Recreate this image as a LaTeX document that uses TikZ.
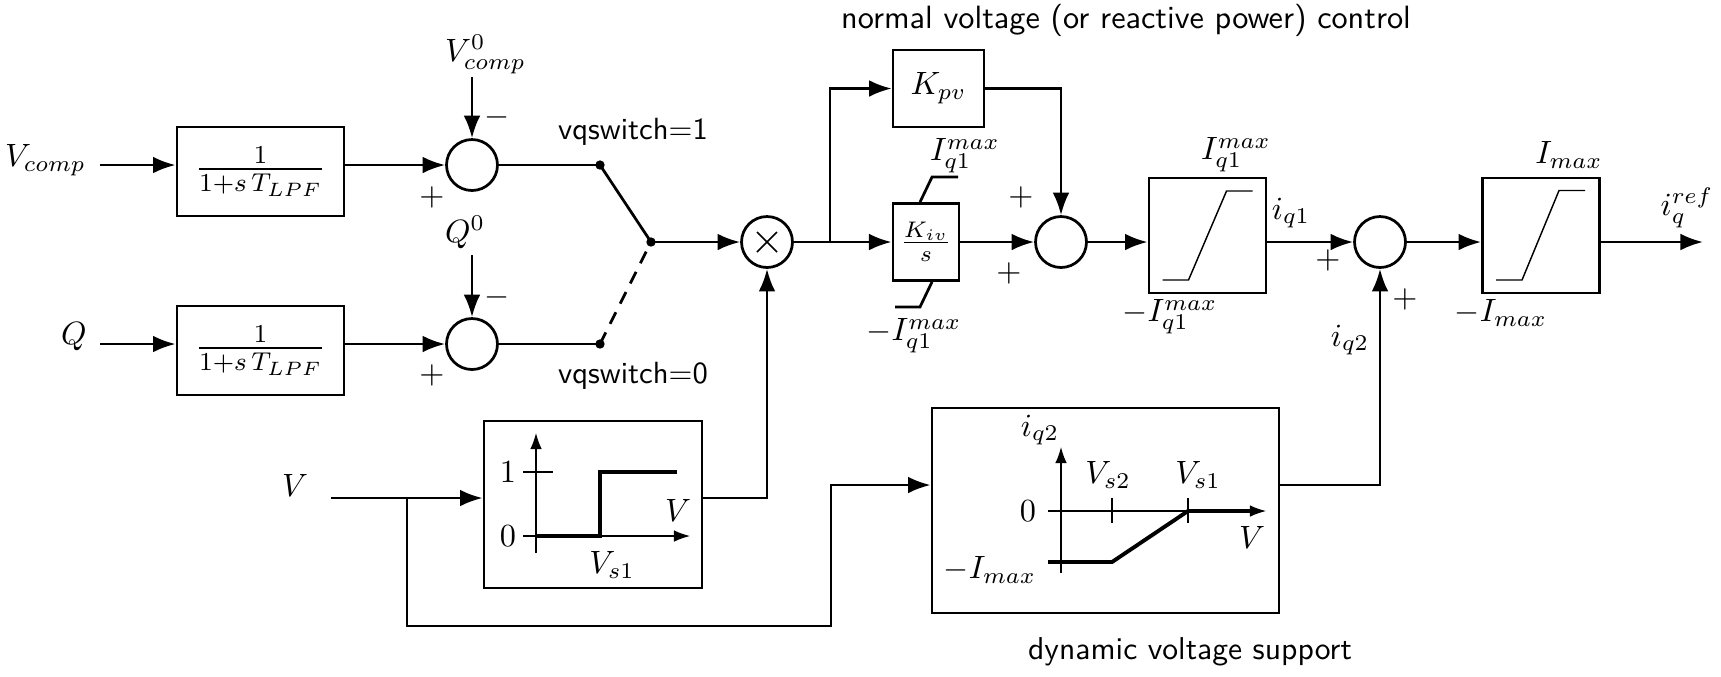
\documentclass[tikz,border=0pt]{standalone}
\usetikzlibrary{arrows.meta,calc}
\begin{document}
\begin{tikzpicture}[x=0.31pt,y=-0.31pt,line width=0.85pt,
  arr/.style={-{Latex[length=7pt,width=5.2pt]}},
  sarr/.style={-{Latex[length=5pt,width=3.6pt]}},
  blk/.style={draw,line width=0.85pt,inner sep=0pt,anchor=center},
  sumc/.style={draw,circle,minimum size=15.8pt,inner sep=0pt,line width=0.85pt},
  lbl/.style={inner sep=0pt},
  txt/.style={inner sep=0pt,font=\fontsize{9.5}{11}\selectfont\sffamily},
  dotn/.style={circle,fill,inner sep=0pt,minimum size=2.9pt},
  axis/.style={line width=0.4pt},
  curve/.style={line width=0.45pt},
  thk/.style={line width=1.2pt},
  lpf/.style={blk,minimum width=51.8pt,minimum height=27.6pt,font=\fontsize{12}{14}\selectfont}]
\useasboundingbox (0,0) rectangle (1721,676);

% ---------- left inputs ----------
\node[lbl] (vcl) at (45.5,160) {$V_{comp}$};
\coordinate (vcin) at (100,165);
\node[lpf] (b1) at (260.5,171.5) {$\frac{1}{1+s\,T_{LPF}}$};
\node[sumc] (s1) at (472,165) {};
\draw[arr] (vcin) -- (vcin -| b1.west);
\draw[arr] (vcin -| b1.east) -- (s1.west);
\node[lbl] (v0) at (485.5,54.5) {$V^0_{comp}$};
\coordinate (v0a) at (472,77);
\draw[arr] (v0a) -- (s1.north);
\node[lbl] (s1m) at (497,117) {$-$};
\node[lbl] (s1p) at (432,197) {$+$};

\node[lbl] (ql) at (74,336.5) {$Q$};
\coordinate (qin) at (100,344);
\node[lpf] (b2) at (260.5,350.5) {$\frac{1}{1+s\,T_{LPF}}$};
\node[sumc] (s2) at (472,344) {};
\draw[arr] (qin) -- (qin -| b2.west);
\draw[arr] (qin -| b2.east) -- (s2.west);
\node[lbl] (q0) at (465,232.5) {$Q^0$};
\coordinate (q0a) at (472,255);
\draw[arr] (q0a) -- (s2.north);
\node[lbl] (s2m) at (497,297) {$-$};
\node[lbl] (s2p) at (432,375) {$+$};

% ---------- switch ----------
\node[dotn] (d1) at (600,165) {};
\node[dotn] (dp) at (651,242) {};
\node[dotn] (d2) at (600,344) {};
\draw (s1.east) -- (d1.center);
\draw (s2.east) -- (d2.center);
\draw (d1.center) -- (dp.center);
\draw[dash pattern=on 4pt off 3pt] (d2.center) -- (dp.center);
\node[txt] (sw1) at (633,132) {vqswitch=1};
\node[txt] (sw0) at (633,376) {vqswitch=0};

% ---------- multiplier ----------
\node[sumc] (m) at (767,242) {};
\draw[line width=0.5pt] ([shift={(-10,-10)}]m.center) -- ([shift={(10,10)}]m.center);
\draw[line width=0.5pt] ([shift={(-10,10)}]m.center) -- ([shift={(10,-10)}]m.center);
\draw[arr] (dp.center) -- (m.west);
\coordinate (j1) at (830,242);
\draw (m.east) -- (j1);

% ---------- PI ----------
\node[txt,font=\fontsize{10}{12}\selectfont\sffamily] (ttl) at (1126,20) {normal voltage (or reactive power) control};
\node[blk,minimum width=28.2pt,minimum height=23.9pt] (kpv) at (938.5,88.5) {$K_{pv}$};
\node[blk,minimum width=20.5pt,minimum height=23.9pt] (kiv) at (926,242) {$\frac{K_{iv}}{s}$};
\draw[arr] (j1) |- (kpv.west);
\draw[arr] (j1) -- (kiv.west);
\node[sumc] (s3) at (1061,242) {};
\draw[arr] (kiv.east) -- (s3.west);
\draw[arr] (kpv.east) -| (s3.north);
\draw ([shift={(-6,0)}]kiv.north) -- ++(12,-25) -- ++(26,0);
\draw ([shift={(6,0)}]kiv.south) -- ++(-12,25) -- ++(-25,0);
\node[lbl] (kivmax) at (965,156) {$I_{q1}^{max}$};
\node[lbl] (kivmin) at (914,336) {$-I_{q1}^{max}$};
\node[lbl] (s3p1) at (1021,197) {$+$};
\node[lbl] (s3p2) at (1009,273) {$+$};

% ---------- limiter 1 ----------
\node[blk,minimum width=36.3pt,minimum height=35.65pt] (l1) at (1207.5,235.5) {};
\draw[curve] ([shift={(-45,44.5)}]l1.center) -- ([shift={(-19,44.5)}]l1.center) -- ([shift={(19,-44.5)}]l1.center) -- ([shift={(45,-44.5)}]l1.center);
\draw[arr] (s3.east) -- (s3.east -| l1.west);
\node[lbl] (l1max) at (1236,155) {$I_{q1}^{max}$};
\node[lbl] (l1min) at (1170,317) {$-I_{q1}^{max}$};
\node[lbl] (iq1) at (1291,213) {$i_{q1}$};

% ---------- sum 4 ----------
\node[sumc] (s4) at (1380,242) {};
\draw[arr] (s3.east -| l1.east) -- (s4.west);
\node[lbl] (s4p1) at (1328,260) {$+$};
\node[lbl] (s4p2) at (1405,299) {$+$};
\node[lbl] (iq2) at (1350,340) {$i_{q2}$};

% ---------- limiter 2 ----------
\node[blk,minimum width=36.3pt,minimum height=35.65pt] (l2) at (1541,235.5) {};
\draw[curve] ([shift={(-45,44.5)}]l2.center) -- ([shift={(-19,44.5)}]l2.center) -- ([shift={(18,-45)}]l2.center) -- ([shift={(44,-45)}]l2.center);
\draw[arr] (s4.east) -- (s4.east -| l2.west);
\coordinate (out) at (1703,242);
\draw[arr] (s4.east -| l2.east) -- (out);
\node[lbl] (l2max) at (1569,155) {$I_{max}$};
\node[lbl] (l2min) at (1501,313) {$-I_{max}$};
\node[lbl] (iqref) at (1687,208) {$i_q^{ref}$};

% ---------- V input, step box ----------
\node[lbl] (vl) at (295,485) {$V$};
\coordinate (vin) at (331,498);
\node[blk,minimum width=67.6pt,minimum height=51.8pt] (step) at (593,504.5) {};
\draw[arr] (vin) -- (vin -| step.west);
\coordinate (j2) at (407,498);
\draw[arr] (step.east |- vin) -| (m.south);
% graph
\draw[axis,sarr] (536,553) -- (536,433);
\draw[axis,sarr] (523,536) -- (690,536);
\draw[axis] (523,472) -- (553,472);
\draw[thk] (536,536) -- (600,536) -- (600,472) -- (677,472);
\node[lbl] (st1) at (508,472) {$1$};
\node[lbl] (st0) at (508,536) {$0$};
\node[lbl] (stv) at (678,510) {$V$};
\node[lbl] (stvs) at (612,565) {$V_{s1}$};

% ---------- dynamic voltage support ----------
\node[blk,minimum width=107.6pt,minimum height=63.6pt] (dyn) at (1105.5,510.5) {};
\coordinate (c1) at (831,626);
\coordinate (c2) at (831,485);
\draw[arr] (j2) |- (c1) -- (c2) -- (c2 -| dyn.west);
\draw[arr] (dyn.east |- c2) -| (s4.south);
\draw[axis,sarr] (1061,573) -- (1061,447);
\draw[axis,sarr] (1048,511) -- (1266,511);
\draw[axis] (1112,498) -- (1112,523);
\draw[axis] (1188,498) -- (1188,523);
\draw[thk] (1048,562) -- (1112,562) -- (1188,511) -- (1250,511);
\node[lbl] (dy) at (1040,430) {$i_{q2}$};
\node[lbl] (d0) at (1028,511) {$0$};
\node[lbl] (dmin) at (990,570) {$-I_{max}$};
\node[lbl] (dvs2) at (1108,475) {$V_{s2}$};
\node[lbl] (dvs1) at (1198,475) {$V_{s1}$};
\node[lbl] (dv) at (1252,537) {$V$};
\node[txt,font=\fontsize{9.8}{12}\selectfont\sffamily] (dtl) at (1190,652) {dynamic voltage support};
\end{tikzpicture}
\end{document}
